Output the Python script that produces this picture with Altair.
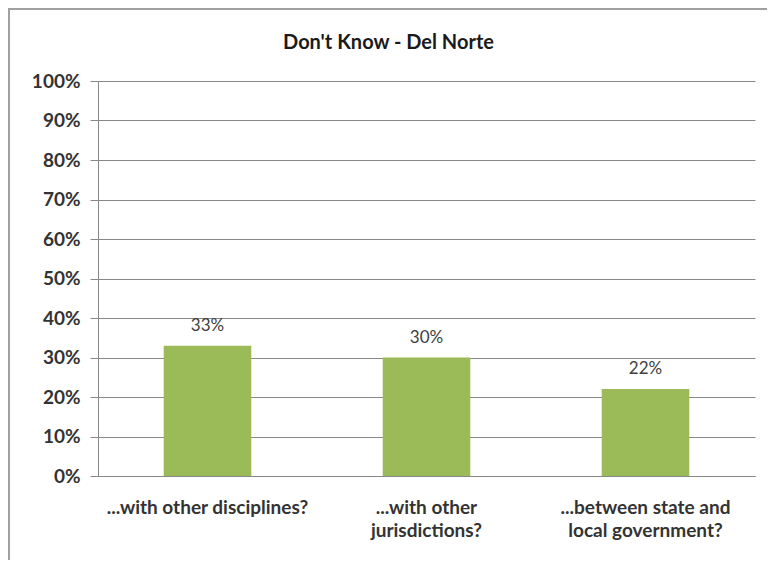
import altair as alt
import pandas as pd

categories = ["...with other disciplines?", "...with other jurisdictions?", "...between state and local government?"]
label_lines = [["...with other disciplines?"], ["...with other", "jurisdictions?"], ["...between state and", "local government?"]]
values = [0.33, 0.30, 0.22]
value_labels = ["33%", "30%", "22%"]
y_ticks = [0.0, 0.1, 0.2, 0.3, 0.4, 0.5, 0.6, 0.7, 0.8, 0.9, 1.0]
title_text = "Don't Know - Del Norte"

df = pd.DataFrame({"cat": categories, "val": values, "lab": value_labels})

label_map = "{" + ", ".join(f"'{c}': [" + ", ".join(f"'{l}'" for l in ls) + "]" for c, ls in zip(categories, label_lines)) + "}"

FONT = "Lato"
W, H = 657, 395

xscale = alt.Scale(paddingInner=0.6, paddingOuter=0.3)
yscale = alt.Scale(domain=[0, 1], nice=False)

x = alt.X("cat:N", sort=categories, title=None, scale=xscale,
          axis=alt.Axis(labelAngle=0, labelExpr=f"{label_map}[datum.value]",
                        labelFont=FONT, labelFontSize=19, labelFontWeight="bold",
                        labelColor="#333333", labelPadding=22, labelLineHeight=23,
                        ticks=False, domainColor="#888888", labelLimit=300))
y = alt.Y("val:Q", title=None, scale=yscale,
          axis=alt.Axis(format=".0%", values=y_ticks, tickCount=20,
                        labelOverlap=False,
                        labelFont=FONT, labelFontSize=19, labelFontWeight="bold",
                        labelColor="#333333", labelPadding=10, tickSize=8,
                        tickColor="#888888", domainColor="#888888",
                        gridColor="#888888", gridWidth=1))

base = alt.Chart(df)

bars = base.mark_bar(color="#9BBB59").encode(x=x, y=y)
texts = base.mark_text(dy=-20, font=FONT, fontSize=17, color="#404040").encode(
    x=x, y=y, text="lab:N")

title = alt.Chart(pd.DataFrame({"t": [title_text]})).mark_text(
    font=FONT, fontSize=20, fontWeight="bold", color="#1a1a1a").encode(
    x=alt.value(W / 2 - 38), y=alt.value(-38), text="t:N")

frame = base.mark_rect(fill=None, stroke="#A0A0A0", strokeWidth=2).encode(
    x=alt.value(-89), x2=alt.value(W + 40), y=alt.value(-72), y2=alt.value(H + 120))

chart = alt.layer(bars, texts, title, frame).properties(
    width=W, height=H,
    background="white",
    autosize=alt.AutoSizeParams(type="none"),
    padding={"left": 90, "top": 73, "right": 12, "bottom": 84},
).configure_view(stroke=None)

chart.save("out.html", embed_options={"renderer": "svg", "actions": False})
